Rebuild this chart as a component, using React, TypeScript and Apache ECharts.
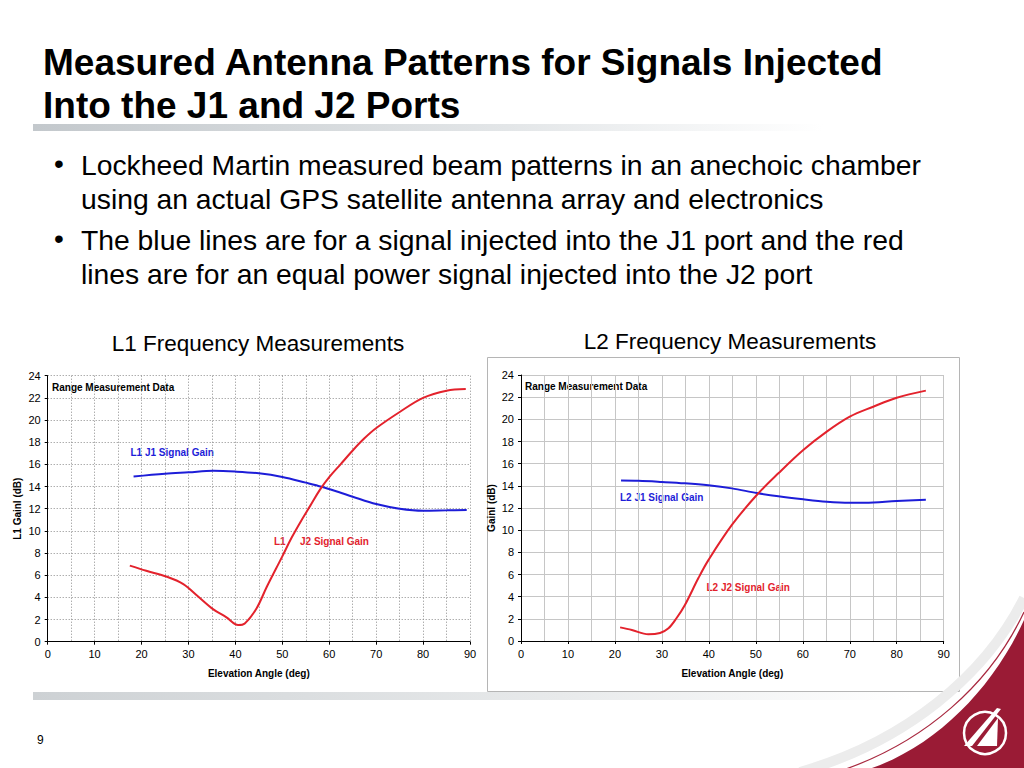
import React, { useEffect, useRef } from "react";
import * as echarts from "echarts";

// ---------- data ----------
const l1J1Angle = [18.3, 25, 30, 35.3, 40, 45, 50, 55, 58.4, 62, 65, 70, 75, 80, 85, 89.3];
const l1J1Gain = [14.9, 15.15, 15.28, 15.42, 15.35, 15.19, 14.86, 14.35, 13.98, 13.5, 13.08, 12.42, 12.0, 11.82, 11.85, 11.88];

const l1J2Angle = [17.5, 21, 25.4, 28.9, 32, 35.3, 38.1, 40.6, 42, 44.5, 46.7, 50, 52, 54, 56, 58, 60, 62.5, 65.1, 67.5, 70.1, 75.1, 80, 85, 89.1];
const l1J2Gain = [6.86, 6.4, 5.86, 5.2, 4.1, 2.92, 2.2, 1.5, 1.65, 3.0, 4.96, 7.7, 9.4, 10.9, 12.3, 13.7, 14.85, 16.05, 17.3, 18.35, 19.3, 20.75, 22.0, 22.65, 22.8];

const l2J1Angle = [21.3, 25, 30, 34.9, 39.9, 44.9, 50.2, 54.8, 60.1, 65.1, 70, 73.2, 80, 86.2];
const l2J1Gain = [14.47, 14.45, 14.35, 14.23, 14.05, 13.77, 13.35, 13.05, 12.78, 12.57, 12.48, 12.48, 12.63, 12.75];

const l2J2Angle = [21.1, 23.6, 27.1, 29.6, 31.4, 33.1, 34.9, 37.8, 39.9, 44.9, 50.2, 54.8, 60.1, 65.1, 70, 75, 80, 86.2];
const l2J2Gain = [1.23, 0.99, 0.6, 0.72, 1.14, 2.05, 3.25, 5.7, 7.3, 10.47, 13.17, 15.13, 17.23, 18.89, 20.24, 21.14, 21.95, 22.59];

const titleLines = ["Measured Antenna Patterns for Signals Injected", "Into the J1 and J2 Ports"];
const bulletLines = [
  ["Lockheed Martin measured beam patterns in an anechoic chamber", "using an actual GPS satellite antenna array and electronics"],
  ["The blue lines are for a signal injected into the J1 port and the red", "lines are for an equal power signal injected into the J2 port"],
];
const chartTitles = ["L1 Frequency Measurements", "L2 Frequency Measurements"];
const yNames = ["L1 Gainl (dB)", "Gainl (dB)"];
const xName = "Elevation Angle (deg)";
const noteText = "Range Measurement Data";
const pageNumber = "9";

// ---------- styles ----------
const FONT = "'Liberation Sans', Arial, Helvetica, sans-serif";
const BLUE = "#1d1dd8";
const RED = "#e3222c";
const MAROON = "#9a1b35";

const zip = (xs: number[], ys: number[]) => xs.map((x, i) => [x, ys[i]]);

echarts.graphic.registerShape(
  "swoosh",
  echarts.graphic.extendPath("M1024,620 C993,688 937,745 872,768 L1024,768 Z", {})
);

function xAxisFor(i: number, grid: any) {
  return {
    type: "value",
    gridIndex: i,
    min: 0,
    max: 90,
    interval: 10,
    axisLine: { show: true, onZero: false, lineStyle: { color: "#000", width: 1 } },
    axisTick: { show: true, length: 3, lineStyle: { color: "#000" } },
    axisLabel: { color: "#000", fontSize: 11, margin: 7, fontFamily: FONT },
    splitLine: { show: true, lineStyle: grid },
    minorTick: { show: false, splitNumber: 2 },
    minorSplitLine: { show: true, lineStyle: grid },
    name: xName,
    nameLocation: "middle",
    nameGap: 27,
    nameTextStyle: { color: "#000", fontSize: 10, fontWeight: "bold", fontFamily: FONT },
  };
}

function yAxisFor(i: number, grid: any) {
  return {
    type: "value",
    gridIndex: i,
    min: 0,
    max: 24,
    interval: 2,
    axisLine: { show: true, onZero: false, lineStyle: { color: "#000", width: 1 } },
    axisTick: { show: true, length: 3, lineStyle: { color: "#000" } },
    axisLabel: { color: "#000", fontSize: 11, margin: 7, fontFamily: FONT },
    splitLine: { show: true, lineStyle: grid },
    name: yNames[i],
    nameLocation: "middle",
    nameGap: 25,
    nameTextStyle: { color: "#000", fontSize: 10, fontWeight: "bold", fontFamily: FONT },
  };
}

function lineSeries(i: number, xs: number[], ys: number[], color: string) {
  return {
    type: "line",
    xAxisIndex: i,
    yAxisIndex: i,
    data: zip(xs, ys),
    showSymbol: false,
    smooth: 0.35,
    lineStyle: { color, width: 2 },
    silent: true,
  };
}

function txt(text: string, x: number, y: number, font: string, fill: string, align = "left") {
  return {
    type: "text",
    x,
    y,
    silent: true,
    style: { text, font, fill, align, verticalAlign: "middle" },
  };
}

const leftGrid = { color: "#8a8a8a", type: [1, 2], width: 1 };
const rightGrid = { color: "#c6c6c6", type: "solid", width: 1 };

const graphics: any[] = [
  // title underline bar
  {
    type: "rect",
    silent: true,
    shape: { x: 33, y: 124, width: 790, height: 7 },
    style: {
      fill: new echarts.graphic.LinearGradient(0, 0, 1, 0, [
        { offset: 0, color: "#c3c8cc" },
        { offset: 0.6, color: "#e3e6e8" },
        { offset: 1, color: "#ffffff" },
      ]),
    },
  },
  // bottom bar
  {
    type: "rect",
    silent: true,
    shape: { x: 33, y: 692, width: 880, height: 8 },
    style: {
      fill: new echarts.graphic.LinearGradient(0, 0, 1, 0, [
        { offset: 0, color: "#cdd1d4" },
        { offset: 0.6, color: "#e8eaeb" },
        { offset: 1, color: "#ffffff" },
      ]),
    },
  },
  // right chart frame
  {
    type: "rect",
    silent: true,
    shape: { x: 487.5, y: 357.5, width: 472, height: 334 },
    style: { fill: "none", stroke: "#b5b5b5", lineWidth: 1 },
  },
  // swoosh shadow and rim
  {
    type: "bezierCurve",
    silent: true,
    shape: { x1: 1024, y1: 598, cpx1: 985, cpy1: 676, cpx2: 905, cpy2: 742, x2: 800, y2: 772 },
    style: { stroke: "#ececec", lineWidth: 10, fill: "none" },
  },
  {
    type: "bezierCurve",
    silent: true,
    shape: { x1: 1024, y1: 612, cpx1: 990, cpy1: 685, cpx2: 924, cpy2: 742, x2: 843, y2: 770 },
    style: { stroke: "#a8283f", lineWidth: 1.2, fill: "none" },
  },
  { type: "swoosh", silent: true, x: 0, y: 0, style: { fill: MAROON } },
  // logo
  {
    type: "circle",
    silent: true,
    shape: { cx: 985, cy: 733, r: 21 },
    style: { fill: "none", stroke: "#ffffff", lineWidth: 2.5 },
  },
  {
    type: "polygon",
    silent: true,
    shape: { points: [[964, 746], [972, 746], [1001, 709], [997, 708]] },
    style: { fill: "#ffffff" },
  },
  {
    type: "polygon",
    silent: true,
    shape: { points: [[998, 718], [997, 746], [977, 746]] },
    style: { fill: "#ffffff" },
  },
  // title
  txt(titleLines[0], 43, 62, `bold 37px ${FONT}`, "#000"),
  txt(titleLines[1], 43, 105, `bold 37px ${FONT}`, "#000"),
  // bullets
  txt("\u2022", 54, 163, `28px ${FONT}`, "#000"),
  txt(bulletLines[0][0], 81, 165, `28.3px ${FONT}`, "#000"),
  txt(bulletLines[0][1], 81, 199, `28.3px ${FONT}`, "#000"),
  txt("\u2022", 54, 238, `28px ${FONT}`, "#000"),
  txt(bulletLines[1][0], 81, 240, `28.3px ${FONT}`, "#000"),
  txt(bulletLines[1][1], 81, 274, `28.3px ${FONT}`, "#000"),
  // chart titles
  txt(chartTitles[0], 258, 343, `22.5px ${FONT}`, "#000", "center"),
  txt(chartTitles[1], 730, 341, `22.5px ${FONT}`, "#000", "center"),
  // in-chart notes
  txt(noteText, 52, 387.5, `bold 10px ${FONT}`, "#000"),
  txt("L1 J1 Signal Gain", 130.5, 452.5, `bold 10px ${FONT}`, BLUE),
  txt("L1", 274, 541.5, `bold 10px ${FONT}`, RED),
  txt("J2 Signal Gain", 300, 541.5, `bold 10px ${FONT}`, RED),
  txt(noteText, 525, 386.5, `bold 10px ${FONT}`, "#000"),
  txt("L2 J1 Signal Gain", 620, 497, `bold 10px ${FONT}`, BLUE),
  txt("L2 J2 Signal Gain", 706.5, 587, `bold 10px ${FONT}`, RED),
  // page number
  txt(pageNumber, 37, 740, `12px ${FONT}`, "#000"),
];

const option: any = {
  animation: false,
  backgroundColor: "#ffffff",
  grid: [
    { left: 47.7, top: 375.7, width: 422.3, height: 266 },
    { left: 521, top: 375, width: 422.7, height: 266 },
  ],
  xAxis: [xAxisFor(0, leftGrid), xAxisFor(1, rightGrid)],
  yAxis: [yAxisFor(0, leftGrid), yAxisFor(1, rightGrid)],
  series: [
    lineSeries(0, l1J1Angle, l1J1Gain, BLUE),
    lineSeries(0, l1J2Angle, l1J2Gain, RED),
    lineSeries(1, l2J1Angle, l2J1Gain, BLUE),
    lineSeries(1, l2J2Angle, l2J2Gain, RED),
  ],
  graphic: graphics,
};

export default function App() {
  const ref = useRef<HTMLDivElement>(null);
  useEffect(() => {
    if (!ref.current) return;
    const chart = echarts.init(ref.current, null, { renderer: "svg" });
    chart.setOption(option);
    return () => chart.dispose();
  }, []);
  return (
    <div
      ref={ref}
      style={{ position: "absolute", left: 0, top: 0, width: 1024, height: 768 }}
    />
  );
}
